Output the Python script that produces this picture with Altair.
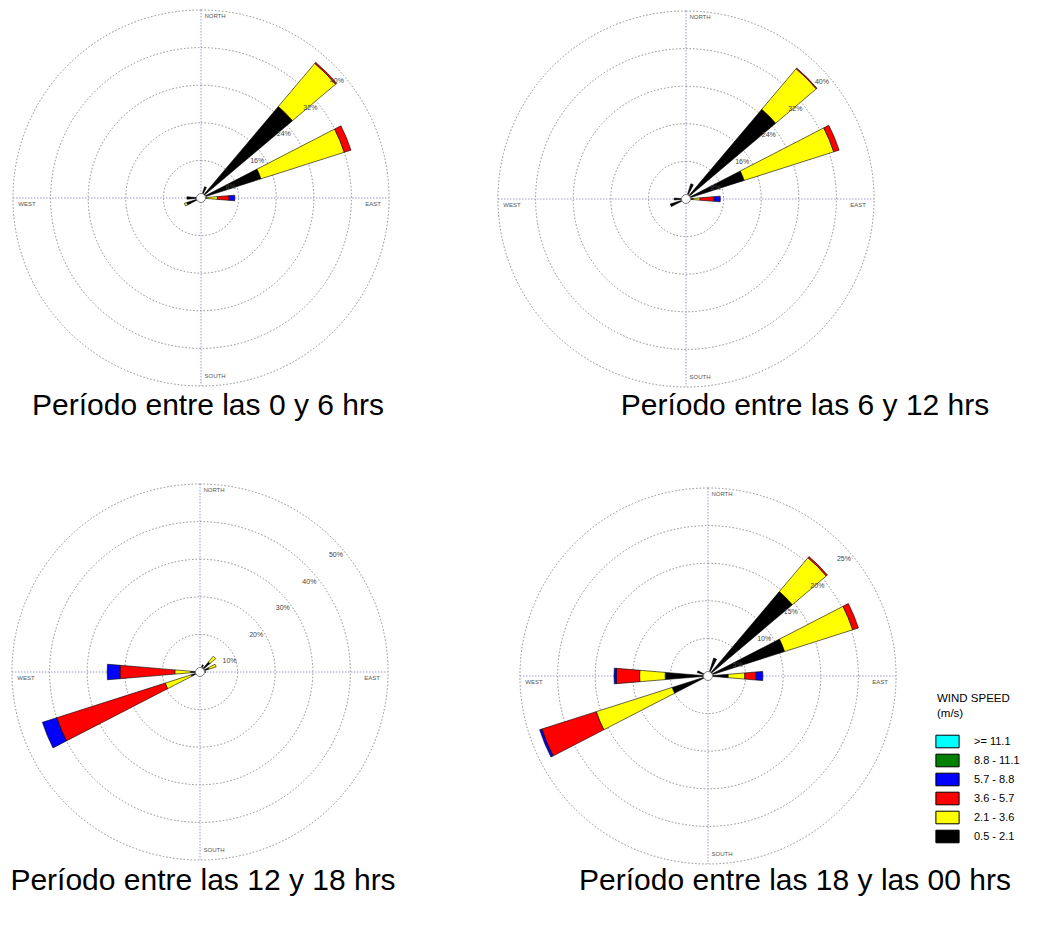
import math
import pandas as pd
import altair as alt

# ---------------- data ----------------
DIRS = ["N", "NNE", "NE", "ENE", "E", "ESE", "SE", "SSE",
        "S", "SSW", "SW", "WSW", "W", "WNW", "NW", "NNW"]
CLASSES = ["0.5 - 2.1", "2.1 - 3.6", "3.6 - 5.7", "5.7 - 8.8", "8.8 - 11.1", ">= 11.1"]
LEGEND_ORDER = [">= 11.1", "8.8 - 11.1", "5.7 - 8.8", "3.6 - 5.7", "2.1 - 3.6", "0.5 - 2.1"]
LEGEND_COLORS = ["#00ffff", "#008000", "#0000ff", "#ff0000", "#ffff00", "#000000"]

# frequency (%) by direction N..NNW, per speed class
p1_black  = [0, 2.5, 25.5, 13.4, 1.2, 0, 0, 0, 0, 0, 0, 3.2, 3.0, 0, 0, 0]
p1_yellow = [0, 0,   12.0, 18.6, 2.3, 0, 0, 0, 0, 0, 0, 0.5, 0,   0, 0, 0]
p1_red    = [0, 0,   0.3,  1.5,  2.5, 0, 0, 0, 0, 0, 0, 0,   0,   0, 0, 0]
p1_blue   = [0, 0,   0,    0,    1.2, 0, 0, 0, 0, 0, 0, 0,   0,   0, 0, 0]

p2_black  = [0, 3.4, 25.0, 13.0, 1.5, 0, 0, 0, 0, 0, 0, 3.5, 2.5, 0, 0, 0]
p2_yellow = [0, 0,   11.3, 20.0, 1.5, 0, 0, 0, 0, 0, 0, 0,   0,   0, 0, 0]
p2_red    = [0, 0,   0.2,  1.2,  3.0, 0, 0, 0, 0, 0, 0, 0,   0,   0, 0, 0]
p2_blue   = [0, 0,   0,    0,    1.3, 0, 0, 0, 0, 0, 0, 0,   0,   0, 0, 0]

p3_black  = [0, 2.0, 3.5, 2.5, 1.5, 0, 0, 0, 0, 0, 0, 2.5,  2.5,  0, 0, 0]
p3_yellow = [0, 0,   2.0, 2.0, 0,   0, 0, 0, 0, 0, 0, 7.2,  4.2,  0, 0, 0]
p3_red    = [0, 0,   0,   0,   0,   0, 0, 0, 0, 0, 0, 30.3, 14.6, 0, 0, 0]
p3_blue   = [0, 0,   0,   0,   0,   0, 0, 0, 0, 0, 0, 4.0,  3.4,  0, 0, 0]

p4_black  = [0, 2.5, 14.7, 10.7, 2.7, 0, 0, 0, 0, 0, 0, 5.0,  5.7, 1.5, 0, 0]
p4_yellow = [0, 0,   5.9,  9.5,  2.2, 0, 0, 0, 0, 0, 0, 10.6, 3.4, 0,   0, 0]
p4_red    = [0, 0,   0.2,  0.8,  1.5, 0, 0, 0, 0, 0, 0, 7.6,  3.1, 0,   0, 0]
p4_blue   = [0, 0,   0,    0,    0.9, 0, 0, 0, 0, 0, 0, 0.3,  0.3, 0,   0, 0]

rings1 = [8, 16, 24, 32, 40]
rings2 = [8, 16, 24, 32, 40]
rings3 = [10, 20, 30, 40, 50]
rings4 = [5, 10, 15, 20, 25]

captions = ["Período entre las 0 y 6 hrs",
            "Período entre las 6 y 12 hrs",
            "Período entre las 12 y 18 hrs",
            "Período entre las 18 y las 00 hrs"]

# ---------------- layout / style ----------------
R = 188            # outer ring radius in px
HALF = 4.8         # half width of a petal in degrees
FONT = "Liberation Sans"
one = pd.DataFrame({"k": [0]})

theta_scale = alt.Scale(domain=[0, 360], range=[0, 2 * math.pi])
color_scale = alt.Scale(domain=LEGEND_ORDER, range=LEGEND_COLORS)
PATH = "M-1.16,-0.63L1.16,-0.63L1.16,0.63L-1.16,0.63Z"
legend = alt.Legend(
    orient="none", legendX=929, legendY=681,
    title=["WIND SPEED", "(m/s)"], titleFont=FONT, titleFontSize=11.5,
    titleFontWeight="normal", titleColor="black", titleLineHeight=14.5,
    titlePadding=12, labelFont=FONT, labelFontSize=11, labelColor="black",
    labelOffset=16, symbolType=PATH, symbolSize=400, symbolStrokeColor="black",
    symbolStrokeWidth=1, symbolOpacity=1, rowPadding=0, padding=0,
)


def petal_table(classes):
    rows = []
    for d, name in enumerate(DIRS):
        acc = 0.0
        for ci, vals in enumerate(classes):
            v = vals[d]
            if v > 0:
                rows.append({"dir": name, "cls": CLASSES[ci], "r0": acc, "r1": acc + v,
                             "t0": d * 22.5 - HALF, "t1": d * 22.5 + HALF})
                acc += v
    return pd.DataFrame(rows)


def panel(classes, rings, caption, cx, cy, capx, capy):
    rscale = alt.Scale(type="linear", domain=[0, rings[-1]], range=[0, R], zero=True)
    ring_df = pd.DataFrame({"r": rings, "label": [f"{v}%" for v in rings]})
    pos = {"x": alt.value(cx), "y": alt.value(cy)}

    ring_layer = alt.Chart(ring_df).mark_arc(
        filled=False, stroke="#8a8a8a", strokeWidth=1, strokeDash=[1.5, 2],
        theta=0, theta2=2 * math.pi
    ).encode(radius=alt.Radius("r:Q", scale=rscale, stack=False), **pos)

    vline = alt.Chart(one).mark_rule(color="#9c9cd0", strokeDash=[1.5, 1.5]).encode(
        x=alt.value(cx), y=alt.value(cy - R), y2=alt.value(cy + R))
    hline = alt.Chart(one).mark_rule(color="#9c9cd0", strokeDash=[1.5, 1.5]).encode(
        y=alt.value(cy), x=alt.value(cx - R), x2=alt.value(cx + R))

    petals = alt.Chart(petal_table(classes)).mark_arc(stroke="black", strokeWidth=0.6).encode(
        theta=alt.Theta("t0:Q", scale=theta_scale, stack=False),
        theta2=alt.Theta2("t1:Q"),
        radius=alt.Radius("r1:Q", scale=rscale, stack=False),
        radius2=alt.Radius2("r0:Q"),
        color=alt.Color("cls:N", scale=color_scale, legend=legend),
        **pos,
    )

    calm = alt.Chart(one).mark_arc(
        fill="white", stroke="#808080", strokeWidth=1, theta=0, theta2=2 * math.pi, radius=4.5
    ).encode(**pos)

    ring_labels = alt.Chart(ring_df).mark_text(
        font=FONT, fontSize=7, color="#444444", dx=3, dy=16
    ).encode(theta=alt.value(math.pi / 4),
             radius=alt.Radius("r:Q", scale=rscale, stack=False),
             text="label:N", **pos)

    compass = []
    for txt, ox, oy in [("NORTH", 14, -182), ("SOUTH", 14, 178), ("EAST", 172, 6), ("WEST", -174, 6)]:
        compass.append(alt.Chart(one).mark_text(
            text=txt, font=FONT, fontSize=6, color="#555555"
        ).encode(x=alt.value(cx + ox), y=alt.value(cy + oy)))

    cap = alt.Chart(one).mark_text(
        text=caption, font=FONT, fontSize=30, color="black", baseline="middle"
    ).encode(x=alt.value(capx), y=alt.value(capy))

    return alt.layer(ring_layer, vline, hline, petals, calm, ring_labels, *compass, cap)


c1 = panel([p1_black, p1_yellow, p1_red, p1_blue], rings1, captions[0], 193, 186, 200, 394)
c2 = panel([p2_black, p2_yellow, p2_red, p2_blue], rings2, captions[1], 678, 187, 797, 394)
c3 = panel([p3_black, p3_yellow, p3_red, p3_blue], rings3, captions[2], 192, 660, 195, 869)
c4 = panel([p4_black, p4_yellow, p4_red, p4_blue], rings4, captions[3], 700, 664, 787, 869)

chart = alt.layer(c1, c2, c3, c4).resolve_scale(radius="independent").properties(
    width=1021, height=910, padding=0
).configure_view(stroke="transparent")

chart.save("out.html", embed_options={"renderer": "svg", "actions": False})
